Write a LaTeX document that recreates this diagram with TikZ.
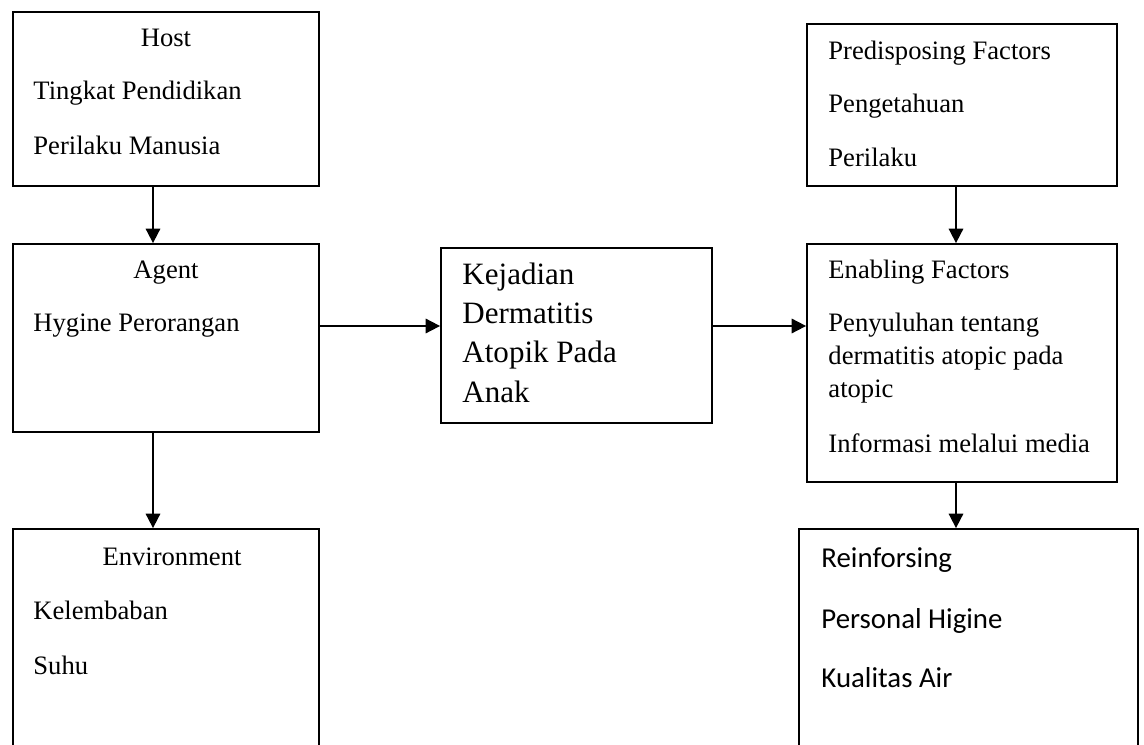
\documentclass[tikz,border=0pt]{standalone}
\usepackage{fontspec}
\setmainfont{Liberation Serif}
\newfontfamily\carlito{Carlito}
\usetikzlibrary{arrows.meta,fit}

\begin{document}
\begin{tikzpicture}[x=0.451pt,y=-0.451pt,
  box/.style={draw,line width=0.8pt,inner sep=0pt},
  txt/.style={anchor=base west,inner sep=0pt,font=\fontsize{12}{14}\selectfont},
  ttl/.style={anchor=base,inner sep=0pt,font=\fontsize{12}{14}\selectfont},
  big/.style={anchor=base west,inner sep=0pt,font=\fontsize{14}{16}\selectfont},
  sans/.style={anchor=base west,inner sep=0pt,font=\carlito\fontsize{13}{15}\selectfont},
  arr/.style={line width=0.8pt,-{Triangle[length=6.5pt,width=6.5pt]}}]
\useasboundingbox (0,0) rectangle (1144,745);
\clip (0,0) rectangle (1144,745);
\node[box,fit={(13,12) (319,186)}] (host) {};
\node[box,fit={(13,244) (319,432)}] (agent) {};
\node[box,fit={(13,529) (319,770)}] (env) {};
\node[box,fit={(441,248) (712,423)}] (kejadian) {};
\node[box,fit={(807,24) (1117,186)}] (predis) {};
\node[box,fit={(807,244) (1117,482)}] (enabling) {};
\node[box,fit={(799,529) (1138,770)}] (reinf) {};
\node[ttl] (h0) at (166,47) {Host};
\node[txt] (h1) at (33,100) {Tingkat Pendidikan};
\node[txt] (h2) at (33,155) {Perilaku Manusia};
\node[ttl] (a0) at (166,279) {Agent};
\node[txt] (a1) at (33,332) {Hygine Perorangan};
\node[ttl] (e0) at (172,565) {Environment};
\node[txt] (e1) at (33,619) {Kelembaban};
\node[txt] (e2) at (33,674) {Suhu};
\node[big] (k1) at (462,285) {Kejadian};
\node[big] (k2) at (462,324) {Dermatitis};
\node[big] (k3) at (462,363) {Atopik Pada};
\node[big] (k4) at (462,402) {Anak};
\node[txt] (p0) at (828,60) {Predisposing Factors};
\node[txt] (p1) at (828,113) {Pengetahuan};
\node[txt] (p2) at (828,167) {Perilaku};
\node[txt] (n0) at (828,279) {Enabling Factors};
\node[txt] (n1) at (828,332) {Penyuluhan tentang};
\node[txt] (n2) at (828,365) {dermatitis atopic pada};
\node[txt] (n3) at (828,398) {atopic};
\node[txt] (n4) at (828,452) {Informasi melalui media};
\node[sans] (r0) at (821,567) {Reinforsing};
\node[sans] (r1) at (821,628) {Personal Higine};
\node[sans] (r2) at (821,687) {Kualitas Air};
\coordinate (lcol) at (153,0);
\coordinate (rcol) at (956,0);
\coordinate (mid) at (0,326);
\draw[arr] (host.south -| lcol) -- (agent.north -| lcol);
\draw[arr] (agent.south -| lcol) -- (env.north -| lcol);
\draw[arr] (agent.east |- mid) -- (kejadian.west |- mid);
\draw[arr] (kejadian.east |- mid) -- (enabling.west |- mid);
\draw[arr] (predis.south -| rcol) -- (enabling.north -| rcol);
\draw[arr] (enabling.south -| rcol) -- (reinf.north -| rcol);
\end{tikzpicture}
\end{document}
